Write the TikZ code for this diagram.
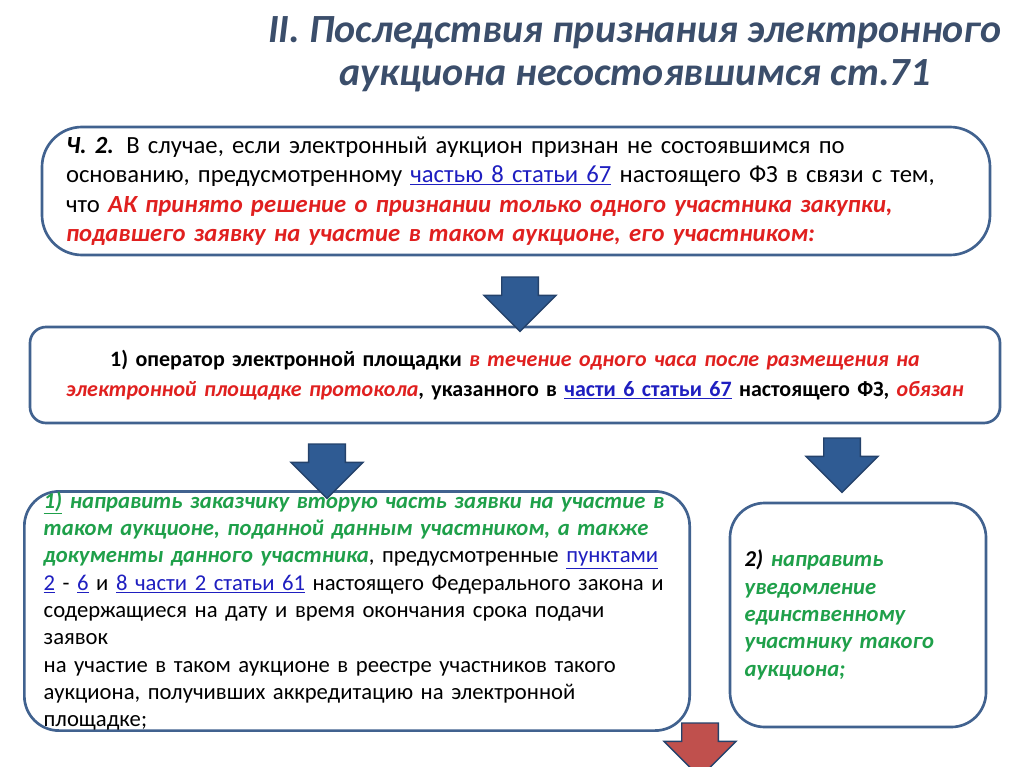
\documentclass[tikz,border=0pt]{standalone}
\usepackage{fontspec}
\setmainfont{Carlito}
\usetikzlibrary{shapes.arrows,shadows}
\definecolor{boxline}{RGB}{65,98,143}
\definecolor{arrfill}{RGB}{47,91,147}
\definecolor{arrline}{RGB}{36,66,107}
\definecolor{redfill}{RGB}{192,80,77}
\definecolor{titlecol}{RGB}{59,78,107}
\definecolor{redtext}{RGB}{224,32,31}
\definecolor{greentext}{RGB}{31,160,74}
\definecolor{linkblue}{RGB}{31,31,192}
\newcommand{\lnk}[1]{{\color{linkblue}\underline{#1}}}
\newcommand{\rd}[1]{{\color{redtext}\bfseries\itshape #1}}
\newcommand{\gr}[1]{{\color{greentext}\bfseries\itshape #1}}
\tikzset{
  box/.style={draw=boxline, line width=2pt, fill=white, inner sep=0pt, font=\fontsize{17pt}{20.5pt}\selectfont},
  downarrow/.style={single arrow, draw=arrline, line width=1pt, fill=arrfill, shape border rotate=270,
    minimum height=28pt, minimum width=54pt, inner sep=13pt, single arrow head extend=13pt},
}
\begin{document}
\begin{tikzpicture}[x=0.75pt,y=0.75pt,yscale=-1,xscale=1]
\useasboundingbox (0,0) rectangle (1024,767);

% Title
\node (title) [align=center, text=titlecol, font=\fontsize{30pt}{32pt}\selectfont\bfseries\itshape]
  at (635,54) {II. Последствия признания электронного\\аукциона несостоявшимся ст.71};

% Boxes
\node (case) [box, rounded corners=30pt, minimum width=711pt, minimum height=96pt, text width=675pt, align=left,
  font=\fontsize{18.5pt}{22pt}\selectfont]
  at (516,191) {\textit{\textbf{Ч. 2.}} В случае, если электронный аукцион признан не состоявшимся по\\
  основанию, предусмотренному \lnk{частью 8 статьи 67} настоящего ФЗ в связи с тем,\\
  что \rd{АК принято решение о признании только одного участника закупки,}\\
  \rd{подавшего заявку на участие в таком аукционе, его участником:}};

\node (oper) [box, rounded corners=12pt, minimum width=727.5pt, minimum height=72pt, text width=715pt, align=center,
  font=\fontsize{16.5pt}{22pt}\selectfont\bfseries]
  at (515,375) {1) оператор электронной площадки \rd{в течение одного часа после размещения на}\\
  \rd{электронной площадке протокола}, указанного в \lnk{части 6 статьи 67} настоящего ФЗ, \rd{обязан}};

\node (send) [box, rounded corners=26pt, minimum width=499pt, minimum height=174pt, text width=470pt, align=left]
  at (357,611) {\gr{\underline{1)} направить заказчику вторую часть заявки на участие в}\\
  \gr{таком аукционе, поданной данным участником, а также}\\
  \gr{документы данного участника}, предусмотренные \lnk{пунктами}\\
  \lnk{2} - \lnk{6} и \lnk{8 части 2 статьи 61} настоящего Федерального закона и\\
  содержащиеся на дату и время окончания срока подачи заявок\\
  на участие в таком аукционе в реестре участников такого\\
  аукциона, получивших аккредитацию на электронной\\
  площадке;};

\node (notify) [box, rounded corners=26pt, minimum width=192pt, minimum height=168pt, text width=170pt, align=left]
  at (858,615) {\textbf{\textit{2)}} \gr{направить}\\ \gr{уведомление}\\ \gr{единственному}\\
  \gr{участнику такого}\\ \gr{аукциона;}};

% Arrows
\node (arr1) [downarrow] at (520,295) {};
\node (arr2) [downarrow] at (327,462) {};
\node (arr3) [downarrow] at (842,456) {};
\node (arr4) [downarrow, fill=redfill] at (700,741) {};

\end{tikzpicture}
\end{document}
